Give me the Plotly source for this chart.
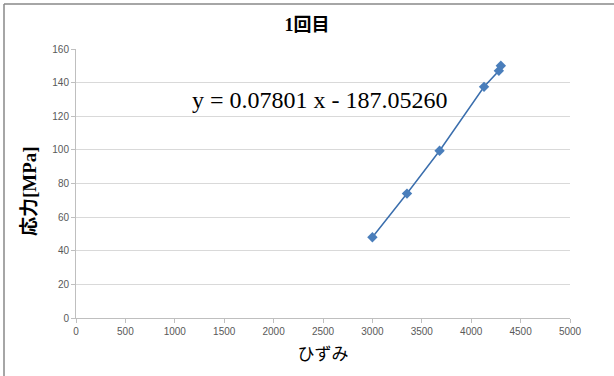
import plotly.graph_objects as go

strain = [3000, 3350, 3680, 4130, 4280, 4300]
stress = [48, 74, 99.5, 137.5, 147, 150]
equation_text = "y = 0.07801 x - 187.05260"
title_text = "<b>1回目</b>"
x_title = "ひずみ"
y_title = "<b>応力[MPa]</b>"

W, H = 614, 376
L, R, T, B = 76, 44, 49, 58
pw, ph = W - L - R, H - T - B

def px2paper_x(px):
    return (px - L) / pw

def px2paper_y(py):
    return (H - B - py) / ph

fig = go.Figure()
fig.add_trace(go.Scatter(
    x=strain, y=stress, mode="lines+markers",
    line=dict(color="#3A6EAD", width=1.5),
    marker=dict(symbol="diamond", size=8, color="#4A7EBB"),
    showlegend=False,
))

tickfont = dict(family="Liberation Sans, Arial, sans-serif", size=10, color="#595959")
fig.update_layout(
    width=W, height=H,
    margin=dict(l=L, r=R, t=T, b=B),
    paper_bgcolor="white", plot_bgcolor="white",
    title=dict(text=title_text, x=0.5, xanchor="center", y=1 - 25 / H, yanchor="middle",
               font=dict(family="Liberation Serif, Noto Sans CJK JP, serif", size=18, color="black")),
    xaxis=dict(range=[0, 5000], dtick=500, showgrid=False, showline=True, linecolor="#BFBFBF",
               ticks="outside", ticklen=4, tickcolor="#BFBFBF", tickfont=tickfont, zeroline=False,
               title=dict(text=x_title, standoff=12,
                          font=dict(family="Noto Sans CJK JP, sans-serif", size=17, color="black"))),
    yaxis=dict(range=[0, 160], dtick=20, showgrid=True, gridcolor="#D9D9D9", gridwidth=1,
               showline=True, linecolor="#BFBFBF", ticks="outside", ticklen=4, tickcolor="#BFBFBF",
               tickfont=tickfont, zeroline=False),
)

# y-axis title placed as rotated annotation
fig.add_annotation(
    x=px2paper_x(30), y=px2paper_y(191), xref="paper", yref="paper",
    text=y_title, textangle=-90, showarrow=False, xanchor="center", yanchor="middle",
    font=dict(family="Liberation Serif, Noto Sans CJK JP, serif", size=19, color="black"),
)

fig.add_annotation(
    x=px2paper_x(320), y=px2paper_y(100), xref="paper", yref="paper",
    text=equation_text, showarrow=False, xanchor="center", yanchor="middle",
    font=dict(family="Liberation Serif, Times New Roman, serif", size=24, color="black"),
)

# chart border (top and left edges visible)
border = dict(color="#888888", width=1.5)
fig.add_shape(type="line", xref="paper", yref="paper",
              x0=px2paper_x(4), x1=px2paper_x(W + 2), y0=px2paper_y(4), y1=px2paper_y(4), line=border)
fig.add_shape(type="line", xref="paper", yref="paper",
              x0=px2paper_x(4), x1=px2paper_x(4), y0=px2paper_y(4), y1=px2paper_y(H + 2), line=border)

fig.write_html("out.html",
               config={"displayModeBar": False},
               post_script="document.body.style.margin='0';document.body.style.overflow='hidden';")
